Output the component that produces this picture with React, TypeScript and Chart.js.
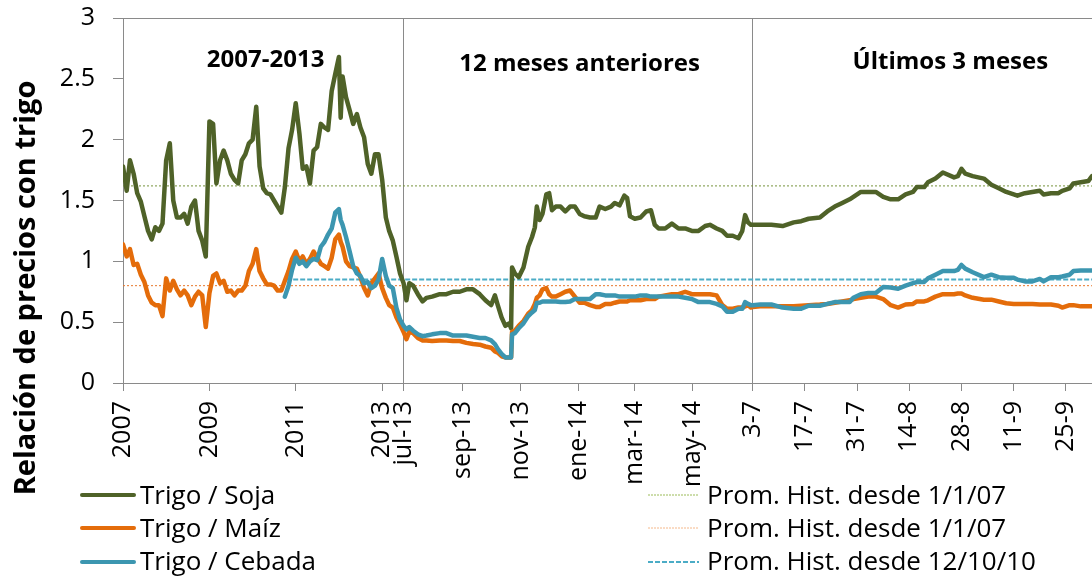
import React, { useEffect, useRef } from 'react';
import { Chart, LinearScale, registerables } from 'chart.js';

Chart.register(...registerables);

// ---------------- DATA ----------------
// Segment 1: 2007 - jun 2013 (monthly, plus one mid-month point)
const SEG1_DATES = [
  '2007-01', '2007-02', '2007-03', '2007-04', '2007-05', '2007-06', '2007-07', '2007-08', '2007-09', '2007-10', '2007-11', '2007-12',
  '2008-01', '2008-02', '2008-03', '2008-04', '2008-05', '2008-06', '2008-07', '2008-08', '2008-09', '2008-10', '2008-11', '2008-12',
  '2009-01', '2009-02', '2009-03', '2009-04', '2009-05', '2009-06', '2009-07', '2009-08', '2009-09', '2009-10', '2009-11', '2009-12',
  '2010-01', '2010-02', '2010-03', '2010-04', '2010-05', '2010-06', '2010-07', '2010-08', '2010-09', '2010-10', '2010-11', '2010-12',
  '2011-01', '2011-02', '2011-03', '2011-04', '2011-05', '2011-06', '2011-07', '2011-08', '2011-09', '2011-10', '2011-11', '2011-12',
  '2012-01', '2012-01-16', '2012-02', '2012-03', '2012-04', '2012-05', '2012-06', '2012-07', '2012-08', '2012-09', '2012-10', '2012-11', '2012-12',
  '2013-01', '2013-02', '2013-03', '2013-04', '2013-05', '2013-06',
];
const SEG1_SOJA = [
  1.78, 1.58, 1.83, 1.72, 1.56, 1.49, 1.37, 1.25, 1.18, 1.28, 1.25, 1.31,
  1.83, 1.97, 1.50, 1.36, 1.36, 1.39, 1.31, 1.45, 1.50, 1.25, 1.17, 1.04,
  2.15, 2.13, 1.64, 1.83, 1.91, 1.83, 1.72, 1.67, 1.64, 1.83, 1.88, 1.97,
  2.00, 2.27, 1.78, 1.60, 1.56, 1.55, 1.50, 1.45, 1.40, 1.61, 1.93, 2.08,
  2.30, 2.05, 1.76, 1.78, 1.64, 1.91, 1.94, 2.13, 2.10, 2.08, 2.40, 2.54,
  2.68, 2.18, 2.52, 2.35, 2.24, 2.13, 2.21, 2.10, 2.02, 1.80, 1.72, 1.88, 1.88,
  1.67, 1.36, 1.25, 1.17, 1.04, 0.90,
];
const SEG1_MAIZ = [
  1.14, 1.04, 1.10, 0.97, 0.98, 0.89, 0.83, 0.72, 0.66, 0.64, 0.64, 0.55,
  0.86, 0.76, 0.84, 0.77, 0.72, 0.76, 0.72, 0.64, 0.71, 0.75, 0.72, 0.46,
  0.74, 0.88, 0.90, 0.82, 0.84, 0.75, 0.76, 0.72, 0.76, 0.76, 0.80, 0.92,
  0.98, 1.10, 0.92, 0.86, 0.81, 0.81, 0.80, 0.76, 0.76, 0.84, 0.92, 1.02,
  1.08, 1.00, 1.04, 0.98, 1.02, 1.08, 1.03, 0.98, 0.96, 0.94, 1.03, 1.18,
  1.22, 1.16, 1.12, 1.00, 0.96, 0.95, 0.94, 0.87, 0.78, 0.72, 0.82, 0.86, 0.90,
  0.78, 0.70, 0.64, 0.62, 0.54, 0.48,
];
const SEG1_CEBADA = [
  null, null, null, null, null, null, null, null, null, null, null, null,
  null, null, null, null, null, null, null, null, null, null, null, null,
  null, null, null, null, null, null, null, null, null, null, null, null,
  null, null, null, null, null, null, null, null, null, 0.71, 0.80, 0.93,
  1.03, 0.98, 1.00, 0.96, 1.00, 1.02, 1.01, 1.12, 1.16, 1.22, 1.27, 1.40,
  1.43, 1.34, 1.30, 1.20, 1.08, 0.96, 0.90, 0.88, 0.82, 0.83, 0.78, 0.80, 0.85,
  1.02, 0.88, 0.80, 0.78, 0.62, 0.52,
];

// Segment 2: 12 months before (jul-13 .. jul-14)
const SEG2_DATES = [
  '2013-07-01', '2013-07-04', '2013-07-07', '2013-07-11', '2013-07-16', '2013-07-21', '2013-07-25', '2013-07-31',
  '2013-08-08', '2013-08-15', '2013-08-22', '2013-08-29',
  '2013-09-05', '2013-09-12', '2013-09-19', '2013-09-25',
  '2013-10-01', '2013-10-05', '2013-10-08', '2013-10-12', '2013-10-16', '2013-10-20', '2013-10-22', '2013-10-23', '2013-10-26', '2013-10-30',
  '2013-11-04', '2013-11-09', '2013-11-13', '2013-11-16', '2013-11-18', '2013-11-21', '2013-11-24', '2013-11-28',
  '2013-12-01', '2013-12-04', '2013-12-08', '2013-12-13', '2013-12-18', '2013-12-23', '2013-12-28',
  '2014-01-02', '2014-01-07', '2014-01-13', '2014-01-19', '2014-01-23', '2014-01-29',
  '2014-02-04', '2014-02-08', '2014-02-13', '2014-02-18', '2014-02-21', '2014-02-24',
  '2014-03-01', '2014-03-07', '2014-03-13', '2014-03-18', '2014-03-22', '2014-03-26',
  '2014-04-02', '2014-04-09', '2014-04-16', '2014-04-23', '2014-04-30',
  '2014-05-07', '2014-05-14', '2014-05-19', '2014-05-26',
  '2014-06-01', '2014-06-06', '2014-06-12', '2014-06-18', '2014-06-22', '2014-06-25', '2014-06-28',
  '2014-07-01',
];
const SEG2_SOJA = [
  0.82, 0.68, 0.82, 0.80, 0.73, 0.67, 0.70, 0.71,
  0.73, 0.73, 0.75, 0.75,
  0.77, 0.77, 0.73, 0.68,
  0.64, 0.72, 0.64, 0.54, 0.47, 0.49, 0.45, 0.95, 0.90, 0.87,
  0.95, 1.12, 1.20, 1.28, 1.45, 1.34, 1.39, 1.55,
  1.56, 1.42, 1.45, 1.45, 1.41, 1.45, 1.45,
  1.39, 1.37, 1.36, 1.36, 1.45, 1.43,
  1.45, 1.48, 1.46, 1.54, 1.52, 1.37,
  1.35, 1.36, 1.41, 1.42, 1.30, 1.27,
  1.27, 1.31, 1.27, 1.27, 1.25,
  1.25, 1.29, 1.30, 1.27,
  1.25, 1.21, 1.21, 1.19, 1.25, 1.38, 1.32,
  1.30,
];
const SEG2_MAIZ = [
  0.42, 0.36, 0.42, 0.41, 0.37, 0.35, 0.35, 0.345,
  0.35, 0.35, 0.345, 0.345,
  0.33, 0.32, 0.315, 0.30,
  0.29, 0.26, 0.25, 0.22, 0.21, 0.21, 0.21, 0.42, 0.43, 0.47,
  0.51, 0.57, 0.60, 0.65, 0.70, 0.72, 0.77, 0.78,
  0.73, 0.71, 0.71, 0.73, 0.75, 0.76, 0.71,
  0.66, 0.66, 0.64, 0.625, 0.625, 0.65,
  0.65, 0.66, 0.67, 0.67, 0.67, 0.68,
  0.68, 0.68, 0.69, 0.69, 0.69, 0.71,
  0.72, 0.73, 0.73, 0.75, 0.73,
  0.73, 0.73, 0.73, 0.72,
  0.64, 0.61, 0.61, 0.62, 0.62, 0.63, 0.64,
  0.62,
];
const SEG2_CEBADA = [
  0.47, 0.44, 0.46, 0.43, 0.40, 0.385, 0.39, 0.40,
  0.41, 0.41, 0.39, 0.39,
  0.39, 0.38, 0.37, 0.37,
  0.35, 0.32, 0.28, 0.24, 0.21, 0.21, 0.21, 0.40, 0.41, 0.45,
  0.49, 0.55, 0.58, 0.60, 0.66, 0.66, 0.67, 0.67,
  0.67, 0.67, 0.67, 0.665, 0.665, 0.67, 0.69,
  0.69, 0.69, 0.69, 0.73, 0.73, 0.72,
  0.72, 0.72, 0.71, 0.71, 0.71, 0.71,
  0.71, 0.72, 0.72, 0.71, 0.71, 0.71,
  0.71, 0.71, 0.71, 0.70, 0.69,
  0.665, 0.665, 0.665, 0.65,
  0.63, 0.585, 0.585, 0.61, 0.61, 0.665, 0.65,
  0.64,
];

// Segment 3: last 3 months (3-7 .. early october 2014)
const SEG3_DATES = [
  '2014-07-03', '2014-07-05', '2014-07-08', '2014-07-11', '2014-07-14', '2014-07-16', '2014-07-18', '2014-07-21', '2014-07-23', '2014-07-25', '2014-07-27', '2014-07-29', '2014-07-30',
  '2014-08-01', '2014-08-03', '2014-08-05', '2014-08-07', '2014-08-09', '2014-08-11', '2014-08-13', '2014-08-15', '2014-08-16', '2014-08-18', '2014-08-19', '2014-08-21', '2014-08-23', '2014-08-26', '2014-08-27', '2014-08-28', '2014-08-29', '2014-08-31',
  '2014-09-03', '2014-09-05', '2014-09-07', '2014-09-09', '2014-09-11', '2014-09-12', '2014-09-14', '2014-09-16', '2014-09-18', '2014-09-19', '2014-09-21', '2014-09-23', '2014-09-24', '2014-09-26', '2014-09-27', '2014-09-29',
  '2014-10-01', '2014-10-02',
];
const SEG3_SOJA = [
  1.30, 1.30, 1.30, 1.29, 1.32, 1.33, 1.35, 1.36, 1.41, 1.45, 1.48, 1.51, 1.53,
  1.57, 1.57, 1.57, 1.53, 1.51, 1.51, 1.55, 1.57, 1.61, 1.61, 1.65, 1.68, 1.73, 1.69, 1.70, 1.76, 1.72, 1.70,
  1.68, 1.63, 1.60, 1.57, 1.55, 1.54, 1.56, 1.57, 1.58, 1.55, 1.56, 1.56, 1.58, 1.60, 1.64, 1.65,
  1.66, 1.70,
];
const SEG3_MAIZ = [
  0.625, 0.63, 0.63, 0.63, 0.63, 0.635, 0.64, 0.645, 0.65, 0.66, 0.67, 0.68, 0.69,
  0.70, 0.71, 0.71, 0.69, 0.64, 0.62, 0.645, 0.65, 0.67, 0.67, 0.68, 0.71, 0.73, 0.73, 0.735, 0.735, 0.72, 0.70,
  0.685, 0.685, 0.67, 0.655, 0.65, 0.65, 0.65, 0.65, 0.645, 0.645, 0.645, 0.635, 0.62, 0.64, 0.64, 0.63,
  0.63, 0.63,
];
const SEG3_CEBADA = [
  0.64, 0.645, 0.645, 0.62, 0.61, 0.61, 0.635, 0.635, 0.65, 0.665, 0.665, 0.665, 0.70,
  0.73, 0.74, 0.74, 0.79, 0.785, 0.775, 0.80, 0.82, 0.83, 0.83, 0.86, 0.89, 0.92, 0.92, 0.93, 0.97, 0.94, 0.91,
  0.87, 0.89, 0.87, 0.865, 0.865, 0.85, 0.835, 0.835, 0.855, 0.835, 0.87, 0.87, 0.875, 0.89, 0.92, 0.925,
  0.925, 0.925,
];

// Historical averages
const AVG_SOJA = 1.62;
const AVG_MAIZ = 0.8;
const AVG_CEBADA = 0.85;
const AVG_SOJA_FROM = '2007-01-01';
const AVG_MAIZ_FROM = '2007-01-01';
const AVG_CEBADA_FROM = '2010-10-12';

// X axis ticks
const TICK_DATES = [
  '2007-01-01', '2009-01-01', '2011-01-01', '2013-01-01',
  '2013-07-01', '2013-09-01', '2013-11-01', '2014-01-01', '2014-03-01', '2014-05-01',
  '2014-07-03', '2014-07-17', '2014-07-31', '2014-08-14', '2014-08-28', '2014-09-11', '2014-09-25',
];
const TICK_LABELS = [
  '2007', '2009', '2011', '2013',
  'jul-13', 'sep-13', 'nov-13', 'ene-14', 'mar-14', 'may-14',
  '3-7', '17-7', '31-7', '14-8', '28-8', '11-9', '25-9',
];
const DIVIDER_DATES = ['2013-07-01', '2014-07-03'];

// Section titles
const SECTION_TITLES = ['2007-2013', '12 meses anteriores', 'Últimos 3 meses'];
const SECTION_DATES = ['2010-04-21', '2014-01-02', '2014-08-25'];
const SECTION_BASELINES = [2.597, 2.564, 2.584];

const Y_TITLE = 'Relación de precios con trigo';

const SERIES_NAMES = ['Trigo / Soja', 'Trigo / Maíz', 'Trigo / Cebada'];
const AVG_NAMES = ['Prom. Hist. desde 1/1/07', 'Prom. Hist. desde 1/1/07', 'Prom. Hist. desde 12/10/10'];

// ---------------- STYLE / LAYOUT ----------------
const W = 1092;
const H = 578;
const FONT = '"Open Sans", "DejaVu Sans", sans-serif';
const AXIS_GRAY = '#8a8a8a';
const SOJA_COLOR = '#4F6228';
const MAIZ_COLOR = '#E46C0A';
const CEBADA_COLOR = '#3C96B0';
const AVG_COLORS = ['#77933C', '#E8772A', '#4BACC6'];
const LEGEND_AVG_COLORS = ['#9BBB59', '#F5B88A', '#4BACC6'];

// piecewise x axis (three time windows with different zoom)
const BREAK_DATES = ['2007-01-01', '2013-07-01', '2014-07-03', '2014-10-02'];
const SEGMENT_WEIGHTS = [280.7, 349.3, 339.4];

const DAY_MS = 86400000;
function toDay(s: string): number {
  const iso = s.length === 7 ? `${s}-01` : s;
  return Math.round(Date.parse(`${iso}T00:00:00Z`) / DAY_MS);
}
const BREAK_DAYS = BREAK_DATES.map(toDay);
const TOTAL_WEIGHT = SEGMENT_WEIGHTS.reduce((a, b) => a + b, 0);

function dayToDecimal(v: number): number {
  let i = 0;
  while (i < SEGMENT_WEIGHTS.length - 1 && v > BREAK_DAYS[i + 1]) i++;
  let acc = 0;
  for (let k = 0; k < i; k++) acc += SEGMENT_WEIGHTS[k];
  const span = BREAK_DAYS[i + 1] - BREAK_DAYS[i];
  return (acc + (SEGMENT_WEIGHTS[i] * (v - BREAK_DAYS[i])) / span) / TOTAL_WEIGHT;
}
function decimalToDay(d: number): number {
  let target = d * TOTAL_WEIGHT;
  for (let i = 0; i < SEGMENT_WEIGHTS.length; i++) {
    if (target <= SEGMENT_WEIGHTS[i] || i === SEGMENT_WEIGHTS.length - 1) {
      return BREAK_DAYS[i] + (target / SEGMENT_WEIGHTS[i]) * (BREAK_DAYS[i + 1] - BREAK_DAYS[i]);
    }
    target -= SEGMENT_WEIGHTS[i];
  }
  return BREAK_DAYS[BREAK_DAYS.length - 1];
}

class SegmentedTimeScale extends LinearScale {
  static id = 'segmentedTime';
  getPixelForValue(value: any): number {
    if (value === null || value === undefined || Number.isNaN(value)) return NaN;
    return (this as any).getPixelForDecimal(dayToDecimal(value));
  }
  getValueForPixel(pixel: number): number {
    return decimalToDay((this as any).getDecimalForPixel(pixel));
  }
}
Chart.register(SegmentedTimeScale as any);

function buildPoints(dates: string[], values: (number | null)[]) {
  const pts: { x: number; y: number }[] = [];
  dates.forEach((d, i) => {
    const v = values[i];
    if (v !== null && v !== undefined) pts.push({ x: toDay(d), y: v });
  });
  return pts;
}

const ALL_DATES = [...SEG1_DATES, ...SEG2_DATES, ...SEG3_DATES];
const SOJA = [...SEG1_SOJA, ...SEG2_SOJA, ...SEG3_SOJA];
const MAIZ = [...SEG1_MAIZ, ...SEG2_MAIZ, ...SEG3_MAIZ];
const CEBADA = [...SEG1_CEBADA, ...SEG2_CEBADA, ...SEG3_CEBADA];

const overlayPlugin = {
  id: 'overlay',
  afterDraw(chart: any) {
    const { ctx } = chart;
    const xs = chart.scales.x;
    const ys = chart.scales.y;
    ctx.save();
    ctx.fillStyle = '#000';
    // section titles
    ctx.font = `bold 24px ${FONT}`;
    ctx.textAlign = 'center';
    ctx.textBaseline = 'alphabetic';
    SECTION_TITLES.forEach((t, i) => {
      ctx.fillText(t, xs.getPixelForValue(toDay(SECTION_DATES[i])), ys.getPixelForValue(SECTION_BASELINES[i]));
    });
    // y axis title
    ctx.save();
    ctx.translate(35, 288);
    ctx.rotate(-Math.PI / 2);
    ctx.font = `bold 29px ${FONT}`;
    ctx.textAlign = 'center';
    ctx.fillText(Y_TITLE, 0, 0);
    ctx.restore();
    // legend
    const rowLine = [495, 528, 562];
    const rowBase = [504, 537, 570];
    const seriesColors = [SOJA_COLOR, MAIZ_COLOR, CEBADA_COLOR];
    ctx.font = `26px ${FONT}`;
    ctx.textAlign = 'left';
    for (let i = 0; i < 3; i++) {
      ctx.setLineDash([]);
      ctx.lineWidth = 4;
      ctx.lineCap = 'round';
      ctx.strokeStyle = seriesColors[i];
      ctx.beginPath();
      ctx.moveTo(82, rowLine[i]);
      ctx.lineTo(134, rowLine[i]);
      ctx.stroke();
      ctx.fillText(SERIES_NAMES[i], 140, rowBase[i]);

      ctx.lineCap = 'butt';
      ctx.strokeStyle = LEGEND_AVG_COLORS[i];
      ctx.lineWidth = i === 2 ? 2 : 1;
      ctx.setLineDash(i === 2 ? [5, 2] : [2, 1]);
      ctx.beginPath();
      ctx.moveTo(648, rowLine[i]);
      ctx.lineTo(699, rowLine[i]);
      ctx.stroke();
      ctx.fillText(AVG_NAMES[i], 707, rowBase[i]);
    }
    ctx.restore();
  },
};

export default function App() {
  const canvasRef = useRef<HTMLCanvasElement | null>(null);

  useEffect(() => {
    const canvas = canvasRef.current;
    if (!canvas) return;
    const endDay = BREAK_DAYS[BREAK_DAYS.length - 1];
    const avgLine = (from: string, v: number) => [
      { x: toDay(from), y: v },
      { x: endDay, y: v },
    ];
    const tickDays = TICK_DATES.map(toDay);
    const dividerDays = DIVIDER_DATES.map(toDay);

    const lineBase = {
      pointRadius: 0,
      borderWidth: 4.5,
      tension: 0,
      fill: false,
      borderJoinStyle: 'round' as const,
      borderCapStyle: 'round' as const,
    };

    const chart = new Chart(canvas, {
      type: 'line',
      data: {
        datasets: [
          { ...lineBase, label: SERIES_NAMES[2], data: buildPoints(ALL_DATES, CEBADA), borderColor: CEBADA_COLOR },
          { ...lineBase, label: SERIES_NAMES[1], data: buildPoints(ALL_DATES, MAIZ), borderColor: MAIZ_COLOR },
          { ...lineBase, label: SERIES_NAMES[0], data: buildPoints(ALL_DATES, SOJA), borderColor: SOJA_COLOR },
          { label: AVG_NAMES[2], data: avgLine(AVG_CEBADA_FROM, AVG_CEBADA), borderColor: AVG_COLORS[2], borderWidth: 2, borderDash: [5, 2], pointRadius: 0 },
          { label: AVG_NAMES[1], data: avgLine(AVG_MAIZ_FROM, AVG_MAIZ), borderColor: AVG_COLORS[1], borderWidth: 1, borderDash: [2, 2], pointRadius: 0 },
          { label: AVG_NAMES[0], data: avgLine(AVG_SOJA_FROM, AVG_SOJA), borderColor: AVG_COLORS[0], borderWidth: 1, borderDash: [2, 2], pointRadius: 0 },
        ],
      },
      options: {
        animation: false,
        responsive: false,
        events: [],
        layout: { padding: { left: 0, right: 0, top: 18, bottom: 0 } },
        plugins: { legend: { display: false }, tooltip: { enabled: false } },
        scales: {
          x: {
            type: 'segmentedTime' as any,
            min: BREAK_DAYS[0],
            max: endDay,
            afterBuildTicks: (scale: any) => {
              scale.ticks = tickDays.map((v) => ({ value: v }));
            },
            afterFit: (scale: any) => {
              scale.height = H - 383;
              scale.paddingLeft = 0;
              scale.paddingRight = 0;
            },
            ticks: {
              autoSkip: false,
              minRotation: 90,
              maxRotation: 90,
              padding: 10,
              color: '#000',
              font: { family: FONT, size: 25 },
              callback: (_v: any, i: number) => TICK_LABELS[i],
            },
            grid: {
              drawOnChartArea: true,
              drawTicks: true,
              tickLength: 8,
              tickColor: AXIS_GRAY,
              lineWidth: 1,
              color: (c: any) => (c.tick && dividerDays.includes(c.tick.value) ? AXIS_GRAY : 'rgba(0,0,0,0)'),
            },
            border: { display: true, color: AXIS_GRAY, width: 1 },
          },
          y: {
            min: 0,
            max: 3,
            afterFit: (scale: any) => {
              scale.width = 123;
              scale.paddingTop = 0;
              scale.paddingBottom = 0;
            },
            ticks: {
              stepSize: 0.5,
              padding: 18,
              color: '#000',
              font: { family: FONT, size: 25 },
              callback: (v: any) => `${Number(v)}`,
            },
            grid: {
              drawOnChartArea: true,
              tickLength: 10,
              tickColor: AXIS_GRAY,
              color: (c: any) => (c.tick && c.tick.value === 3 ? AXIS_GRAY : 'rgba(0,0,0,0)'),
            },
            border: { display: true, color: AXIS_GRAY, width: 1 },
          },
        },
      },
      plugins: [overlayPlugin],
    });
    return () => chart.destroy();
  }, []);

  return (
    <div style={{ position: 'absolute', left: 0, top: 0, width: W, height: H, background: '#fff' }}>
      <canvas ref={canvasRef} width={W} height={H} style={{ display: 'block' }} />
    </div>
  );
}
